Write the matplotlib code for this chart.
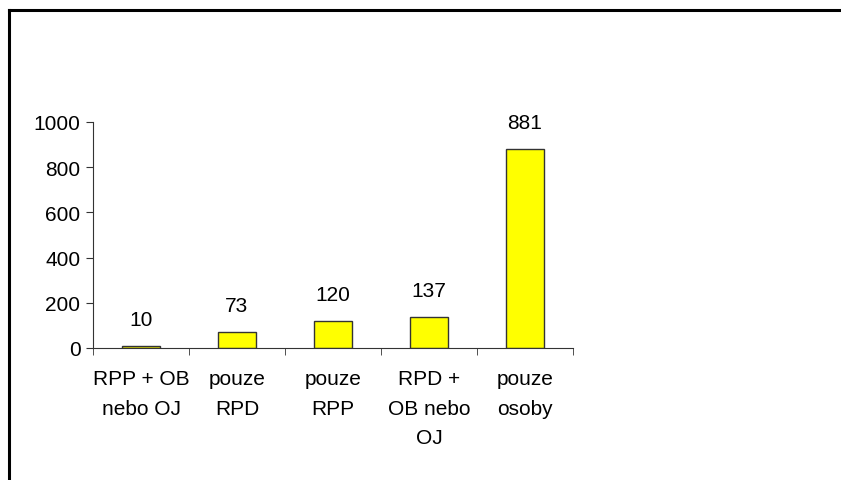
import numpy as np
import matplotlib
matplotlib.use("Agg")
import matplotlib.pyplot as plt
from matplotlib.lines import Line2D

categories = ["RPP + OB\nnebo OJ", "pouze\nRPD", "pouze\nRPP", "RPD +\nOB nebo\nOJ", "pouze\nosoby"]
values = [10, 73, 120, 137, 881]
yticks = [0, 200, 400, 600, 800, 1000]

plt.rcParams["font.family"] = ["Liberation Sans", "DejaVu Sans"]
plt.rcParams["font.size"] = 15

W, H = 841, 481
fig = plt.figure(figsize=(W / 100, H / 100), dpi=100)
ax = fig.add_axes([93 / W, (H - 349) / H, (573 - 93) / W, (349 - 123) / H])

x = np.arange(len(values))
ax.bar(x, values, width=0.4, color="#ffff00", edgecolor="#333333", linewidth=1.0)

for xi, v in zip(x, values):
    ax.annotate(str(v), (xi, v), xytext=(0, 19), textcoords="offset points",
                ha="center", va="center")

ax.set_xlim(-0.5, len(values) - 0.5)
ax.set_ylim(0, 1000)
ax.set_yticks(yticks)

ax.set_xticks(x)
ax.set_xticklabels(categories, linespacing=1.72, multialignment="center")
ax.set_xticks(np.arange(len(values) + 1) - 0.5, minor=True)
ax.tick_params(axis="x", which="major", length=0, pad=15)
ax.tick_params(axis="x", which="minor", length=5, color="#333333", direction="out")
ax.tick_params(axis="y", length=5, color="#333333", pad=4)

for s in ["top", "right"]:
    ax.spines[s].set_visible(False)
for s in ["left", "bottom"]:
    ax.spines[s].set_color("#333333")
    ax.spines[s].set_linewidth(0.8)

# outer chart frame (only top and left edges visible in the crop)
fig.add_artist(Line2D([9 / W, 1.0], [1 - 11 / H, 1 - 11 / H], transform=fig.transFigure,
                      color="black", linewidth=2.2))
fig.add_artist(Line2D([9 / W, 9 / W], [0, 1 - 11 / H], transform=fig.transFigure,
                      color="black", linewidth=2.2))

fig.savefig("out.png", dpi=100)
